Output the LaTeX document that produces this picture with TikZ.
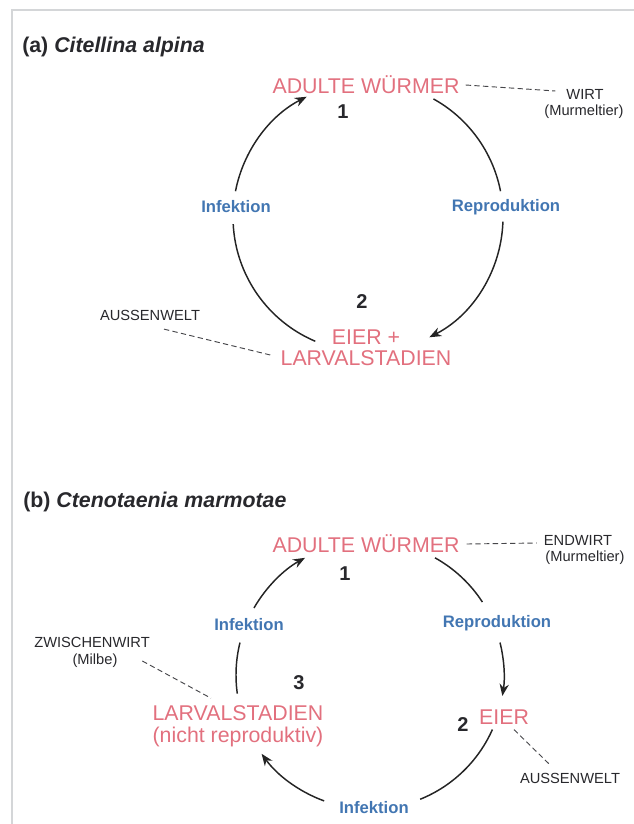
\documentclass[tikz,border=0pt]{standalone}
\usepackage{fontspec}
\setmainfont{Liberation Sans}
\usetikzlibrary{arrows.meta,calc}

\definecolor{wormred}{RGB}{226,112,126}
\definecolor{stageblue}{RGB}{66,118,178}
\definecolor{labelgray}{RGB}{40,40,44}
\definecolor{framegray}{RGB}{212,214,216}

\begin{document}
\begin{tikzpicture}[x=0.75pt,y=0.75pt,yscale=-1,xscale=1,
    stage/.style={font=\fontsize{16}{19}\selectfont,color=wormred,inner sep=0.75pt},
    step label/.style={font=\fontsize{12.5}{15}\selectfont\bfseries,color=stageblue,inner sep=0.75pt},
    place/.style={font=\fontsize{11}{13}\selectfont,color=labelgray,inner sep=0.5pt},
    stagenum/.style={font=\fontsize{15}{17}\selectfont\bfseries,color=labelgray,inner sep=0.75pt},
    panel title/.style={anchor=west,font=\fontsize{16}{19}\selectfont\bfseries,color=labelgray,inner sep=0.75pt},
    cycle/.style={draw={rgb,255:red,36;green,36;blue,36},line width=1.1pt},
    cyclearrow/.style={cycle,-{Stealth[length=9pt,width=7pt]}},
    dashlink/.style={draw={rgb,255:red,70;green,70;blue,74},line width=0.7pt,dash pattern=on 4pt off 2.5pt}]
\useasboundingbox (0,0) rectangle (634,824);
% Frame
\draw [color=framegray,line width=1.2pt] (12,824) -- (12,10) -- (634,10) ;

% ---- (a) Citellina alpina ----
% Text Node
\draw (21,47) node (titlea) [panel title] {(a) \textit{Citellina alpina}};
% Text Node
\draw (366,85) node (adult1) [stage] {ADULTE WÜRMER};
% Text Node
\draw (343,112) node (one1) [stagenum] {1};
% Text Node
\draw (585,94) node (wirt1) [place] {WIRT};
% Text Node
\draw (584,112) node (murm1) [place] {(Murmeltier)};
% Text Node
\draw (236,207) node (inf1) [step label] {Infektion};
% Text Node
\draw (506,207) node (rep1) [step label] {Reproduktion};
% Text Node
\draw (362,302) node (two1) [stagenum] {2};
% Text Node
\draw (150,315) node (aussen1) [place] {AUSSENWELT};
% Text Node
\draw (366,337) node (eier1) [stage] {EIER +};
% Text Node
\draw (366,358) node (larv1) [stage] {LARVALSTADIEN};
% Connection
\coordinate (ca) at (368,217);
\draw [cyclearrow] ([shift={(191:135)}]ca) arc [start angle=191,end angle=243,radius=135] ;
\draw [cycle] ([shift={(113:135)}]ca) arc [start angle=113,end angle=177,radius=135] ;
\draw [cycle] ([shift={(299:135)}]ca) arc [start angle=299,end angle=349,radius=135] ;
\draw [cyclearrow] ([shift={(2:135)}]ca) arc [start angle=2,end angle=63,radius=135] ;
% Connection
\draw [dashlink] ($(adult1.east)+(5,0)$) -- ($(wirt1.west)+(-10,-3)$) ;
\draw [dashlink] ($(aussen1.south)+(14,8)$) -- ($(larv1.west)+(-9,-3)$) ;

% ---- (b) Ctenotaenia marmotae ----
% Text Node
\draw (22,502) node (titleb) [panel title] {(b) \textit{Ctenotaenia marmotae}};
% Text Node
\draw (366,544) node (adult2) [stage] {ADULTE WÜRMER};
% Text Node
\draw (345,574) node (one2) [stagenum] {1};
% Text Node
\draw (578,540) node (endwirt2) [place] {ENDWIRT};
% Text Node
\draw (585,558) node (murm2) [place] {(Murmeltier)};
% Text Node
\draw (249,625) node (inf2) [step label] {Infektion};
% Text Node
\draw (497,623) node (rep2) [step label] {Reproduktion};
% Text Node
\draw (92,642) node (zwischen2) [place] {ZWISCHENWIRT};
% Text Node
\draw (95,661) node (milbe2) [place] {(Milbe)};
% Text Node
\draw (299,683) node (three2) [stagenum] {3};
% Text Node
\draw (238,713) node (larv2) [stage] {LARVALSTADIEN};
% Text Node
\draw (238,737) node (nicht2) [stage] {(nicht reproduktiv)};
% Text Node
\draw (504,717) node (eier2) [stage] {EIER};
% Text Node
\draw (463,725) node (two2) [stagenum] {2};
% Text Node
\draw (570,778) node (aussen2) [place] {AUSSENWELT};
% Text Node
\draw (374,808) node (inf3) [step label] {Infektion};
% Connection
\coordinate (cb) at (370,675);
\draw [cyclearrow] ([shift={(210:134)}]cb) arc [start angle=210,end angle=241,radius=134] ;
\draw [cycle] ([shift={(172:134)}]cb) arc [start angle=172,end angle=194,radius=134] ;
\draw [cycle] ([shift={(299:134)}]cb) arc [start angle=299,end angle=327,radius=134] ;
\draw [cyclearrow] ([shift={(346:134)}]cb) arc [start angle=346,end angle=369,radius=134] ;
\draw [cycle] ([shift={(24:134)}]cb) arc [start angle=24,end angle=68,radius=134] ;
\draw [cyclearrow] ([shift={(110:134)}]cb) arc [start angle=110,end angle=144,radius=134] ;
% Connection
\draw [dashlink] ($(adult2.east)+(6,0)$) -- ($(endwirt2.west)+(-6,3)$) ;
\draw [dashlink] ($(milbe2.east)+(24,0)$) -- ($(larv2.north)+(-27,-6)$) ;
\draw [dashlink] ($(eier2.south)+(10,4)$) -- ($(aussen2.north)+(-21,-8)$) ;
\end{tikzpicture}
\end{document}
